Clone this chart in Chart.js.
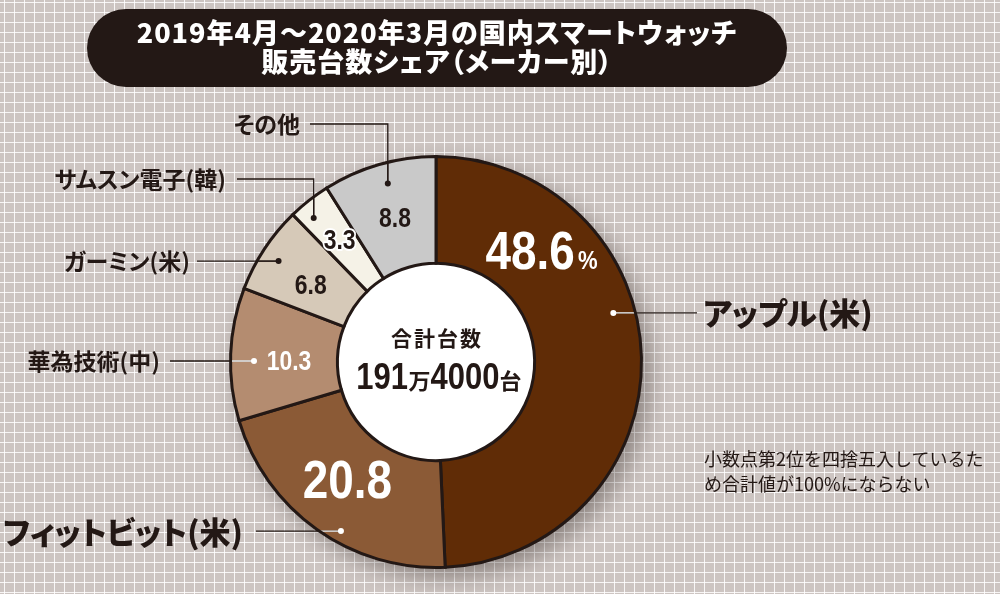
<!DOCTYPE html>
<html lang="ja">
<head>
<meta charset="utf-8">
<script src="https://cdn.jsdelivr.net/npm/chart.js@4"></script>
<style>
  html, body { margin: 0; padding: 0; }
  body {
    width: 1000px; height: 594px; overflow: hidden; position: relative;
    background-color: #cdc5c2;
    background-image:
      linear-gradient(to right, rgba(255,255,255,.85) 1.5px, transparent 1.5px),
      linear-gradient(to bottom, rgba(255,255,255,.85) 1.5px, transparent 1.5px);
    background-size: 10px 10px;
    background-position: 4px 2px;
    font-family: "Noto Sans CJK JP", sans-serif;
    color: #231815;
  }
  #c { position: absolute; left: 0; top: 0; }
  .pill {
    position: absolute; left: 87px; top: 9px; width: 700px; height: 78px;
    background: #231815; border-radius: 39px; color: #fff;
    text-align: center; font-weight: 900; font-size: 27px; line-height: 29px;
    font-feature-settings: "palt"; letter-spacing: 1px;
  }
  .pill div:first-child { padding-top: 8px; }
  .lbl {
    position: absolute; white-space: nowrap; font-weight: 700;
    font-feature-settings: "palt"; line-height: 1;
  }
  .big { font-weight: 900; font-size: 31px; }
  .small { font-size: 23px; }
  .center { position: absolute; width: 200px; left: 337px; text-align: center; font-weight: 700; }
  .cond { display: inline-block; transform: scaleX(.86); font-family: "Liberation Sans", sans-serif; font-weight: 700; }
  .note { position: absolute; left: 704px; top: 446px; font-size: 18px; line-height: 25px; }
</style>
</head>
<body>
<canvas id="c" width="1000" height="594"></canvas>
<div class="pill">
  <div>2019年4月～2020年3月の国内スマートウォッチ</div>
  <div>販売台数シェア（メーカー別）</div>
</div>
<div class="center" style="top:322px;font-size:21px;letter-spacing:2px;">合計台数</div>
<div class="center" style="top:356px;white-space:nowrap;">
  <span class="cond" style="font-size:36px;margin-right:-4px;">191</span><span style="font-size:22px;">万</span><span class="cond" style="font-size:36px;margin:0 -6px 0 -5px;">4000</span><span style="font-size:22px;">台</span>
</div>
<div class="note">小数点第2位を四捨五入しているた<br>め合計値が100%にならない</div>
<div id="labels"></div>
<script>
const makers = ['アップル(米)', 'フィットビット(米)', '華為技術(中)', 'ガーミン(米)', 'サムスン電子(韓)', 'その他'];
const shares = [48.6, 20.8, 10.3, 6.8, 3.3, 8.8];
const valueText = ['48.6', '20.8', '10.3', '6.8', '3.3', '8.8'];
const sliceColors = ['#602c06', '#8b5a36', '#b48c70', '#d6c9b8', '#f5f2e7', '#c9c9c9'];

const INK = '#231815';

// where the value sits inside each slice: fraction of the sweep, radius
const valuePos = [
  { f: 0.25, r: 151, size: 54, color: '#fff' },
  { f: 0.51, r: 150, size: 54, color: '#fff' },
  { f: 0.44, r: 147, size: 27, color: '#fff' },
  { f: 0.40, r: 146, size: 27, color: INK },
  { f: 0.45, r: 154, size: 27, color: INK, halo: true },
  { f: 0.50, r: 148, size: 27, color: INK },
];

// leader lines: dot inside slice, then h/v steps to the label
const leaders = [
  { f: 0.42, r: 184, steps: [['h', 697]], inner: '#fff', side: 'r', gap: 6, cls: 'big' },
  { f: 0.42, r: 194, steps: [['h', 256]], inner: '#fff', side: 'l', gap: 13, cls: 'big' },
  { f: 0.45, r: 182, steps: [['h', 170]], inner: '#fff', side: 'l', gap: 10, cls: 'small' },
  { f: 0.47, r: 187, steps: [['h', 197]], inner: INK, side: 'l', gap: 7, cls: 'small' },
  { f: 0.32, r: 189, steps: [['v', 179], ['h', 237]], inner: INK, side: 'l', gap: 11, cls: 'small' },
  { f: 0.53, r: 185, steps: [['v', 124], ['h', 310]], inner: INK, side: 'l', gap: 10, cls: 'small' },
];

function polar(arc, f, r) {
  const a = arc.startAngle + f * (arc.endAngle - arc.startAngle);
  return [arc.x + r * Math.cos(a), arc.y + r * Math.sin(a)];
}

const decor = {
  id: 'decor',
  beforeDatasetsDraw(chart) {
    const a0 = chart.getDatasetMeta(0).data[0];
    const ctx = chart.ctx;
    ctx.save();
    ctx.shadowColor = 'rgba(35,24,21,0.4)';
    ctx.shadowBlur = 22;
    ctx.shadowOffsetX = 8;
    ctx.shadowOffsetY = 9;
    ctx.fillStyle = '#8b5a36';
    ctx.beginPath();
    ctx.arc(a0.x, a0.y, a0.outerRadius, 0, Math.PI * 2);
    ctx.fill();
    ctx.restore();
    ctx.save();
    ctx.fillStyle = '#fff';
    ctx.beginPath();
    ctx.arc(a0.x, a0.y, a0.innerRadius, 0, Math.PI * 2);
    ctx.fill();
    ctx.restore();
  },
  afterDatasetsDraw(chart) {
    const arcs = chart.getDatasetMeta(0).data;
    const ctx = chart.ctx;
    const holder = document.getElementById('labels');
    holder.innerHTML = '';

    arcs.forEach((arc, i) => {
      const L = leaders[i];
      const pts = [polar(arc, L.f, L.r)];
      for (const [dir, v] of L.steps) {
        const [px, py] = pts[pts.length - 1];
        pts.push(dir === 'h' ? [v, py] : [px, v]);
      }
      const path = () => {
        ctx.beginPath();
        ctx.moveTo(pts[0][0], pts[0][1]);
        for (const p of pts.slice(1)) ctx.lineTo(p[0], p[1]);
      };
      ctx.save();
      ctx.lineWidth = 1.3;
      ctx.strokeStyle = INK;
      path();
      ctx.stroke();
      // part inside the ring gets the slice's own leader colour
      ctx.beginPath();
      ctx.arc(arc.x, arc.y, arc.outerRadius - 1.5, 0, Math.PI * 2);
      ctx.clip();
      ctx.strokeStyle = L.inner;
      path();
      ctx.stroke();
      ctx.restore();

      ctx.save();
      ctx.fillStyle = L.inner;
      ctx.beginPath();
      ctx.arc(pts[0][0], pts[0][1], 3, 0, Math.PI * 2);
      ctx.fill();
      ctx.restore();

      const end = pts[pts.length - 1];
      const d = document.createElement('div');
      d.className = 'lbl ' + L.cls;
      d.textContent = makers[i];
      const h = L.cls === 'big' ? 31 : 23;
      d.style.top = (end[1] - h / 2 - 1) + 'px';
      if (L.side === 'r') d.style.left = (end[0] + L.gap) + 'px';
      else d.style.right = (1000 - end[0] + L.gap) + 'px';
      holder.appendChild(d);

      // value label
      const V = valuePos[i];
      const [vx, vy] = polar(arc, V.f, V.r);
      ctx.save();
      ctx.translate(vx, vy);
      ctx.scale(0.85, 1);
      ctx.textBaseline = 'middle';
      ctx.font = `bold ${V.size}px "Liberation Sans", sans-serif`;
      const t = valueText[i];
      let w = ctx.measureText(t).width;
      let pw = 0;
      if (i === 0) {
        ctx.font = `bold 26px "Liberation Sans", sans-serif`;
        pw = ctx.measureText('%').width + 4;
        ctx.font = `bold ${V.size}px "Liberation Sans", sans-serif`;
      }
      const x0 = -(w + pw) / 2;
      ctx.textAlign = 'left';
      if (V.halo) {
        ctx.lineWidth = 4;
        ctx.strokeStyle = '#fff';
        ctx.lineJoin = 'round';
        ctx.strokeText(t, x0, 0);
      }
      ctx.fillStyle = V.color;
      ctx.fillText(t, x0, 0);
      if (i === 0) {
        ctx.font = `bold 26px "Liberation Sans", sans-serif`;
        ctx.fillText('%', x0 + w + 4, 8);
      }
      ctx.restore();
    });
  },
};

new Chart(document.getElementById('c'), {
  type: 'doughnut',
  data: {
    labels: makers,
    datasets: [{
      data: shares,
      backgroundColor: sliceColors,
      borderColor: INK,
      borderWidth: 3,
      borderJoinStyle: 'miter',
    }],
  },
  options: {
    responsive: false,
    animation: false,
    cutout: '48%',
    layout: { padding: { left: 229, right: 357, top: 155, bottom: 25 } },
    plugins: { legend: { display: false }, tooltip: { enabled: false } },
  },
  plugins: [decor],
});
</script>
</body>
</html>
